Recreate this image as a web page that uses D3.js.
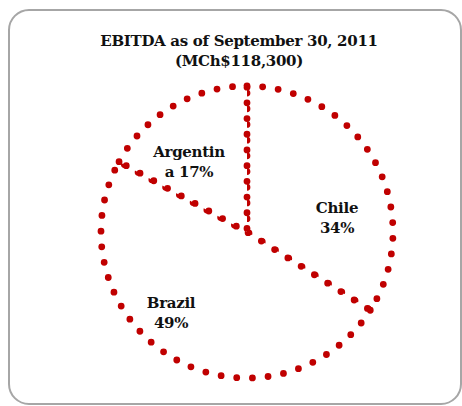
<!DOCTYPE html>
<html lang="en">
<head>
    <meta charset="UTF-8">
    <title>EBITDA pie</title>
    <script src="https://cdn.jsdelivr.net/npm/d3@7"></script>
    <style>
        body { margin: 0; background: #fff; }
        svg { display: block; }
    </style>
</head>
<body>
<script>

    // DATA
    const countries = ["Chile", "Brazil", "Argentina"]
    const shares = [34, 49, 17]
    const labelLines = [["Chile", "34%"], ["Brazil", "49%"], ["Argentin", "a 17%"]]
    const titleLines = ["EBITDA as of September 30, 2011", "(MCh$118,300)"]

    const width = 462, height = 406
    const cx = 247, cy = 232, radius = 146
    const red = "#c00000"
    const font = "'DejaVu Serif', 'Liberation Serif', serif"

    let svg = d3.select("body").append("svg")
        .attr("width", width)
        .attr("height", height)

    // FRAME
    svg.append("rect")
        .attr("x", 9).attr("y", 10)
        .attr("width", 452).attr("height", 394)
        .attr("rx", 20).attr("ry", 20)
        .style("fill", "white")
        .style("stroke", "#a6a6a6")
        .style("stroke-width", "2px")

    // TITLE
    svg.selectAll(".title")
        .data(titleLines)
        .enter().append("text")
        .attr("class", "title")
        .attr("x", 239)
        .attr("y", (d, i) => 46 + i * 20)
        .attr("text-anchor", "middle")
        .style("font-family", font)
        .style("font-weight", "bold")
        .style("font-size", "15px")
        .style("letter-spacing", "-0.3px")
        .style("fill", "#111")
        .text(d => d)

    // PIE
    let pie = d3.pie().sort(null).value(d => d)
    let arc = d3.arc().innerRadius(0).outerRadius(radius)

    let g = svg.append("g").attr("transform", `translate(${cx},${cy})`)

    g.selectAll("path")
        .data(pie(shares))
        .enter().append("path")
        .attr("d", arc)
        .style("fill", "white")
        .style("stroke", red)
        .style("stroke-width", "6.8px")
        .style("stroke-linecap", "round")
        .style("stroke-dasharray", "0 15.7")

    // LABELS (positions relative to pie centre)
    const labelPos = [[90, -19], [-76, 76], [-58, -75]]
    let labels = g.selectAll(".lbl")
        .data(labelLines)
        .enter().append("text")
        .attr("class", "lbl")
        .attr("text-anchor", "middle")
        .attr("transform", (d, i) => `translate(${labelPos[i][0]},${labelPos[i][1]})`)
        .style("font-family", font)
        .style("font-weight", "bold")
        .style("font-size", "15px")
        .style("letter-spacing", "-0.3px")
        .style("fill", "#111")

    labels.selectAll("tspan")
        .data(d => d)
        .enter().append("tspan")
        .attr("x", 0)
        .attr("dy", (d, i) => i === 0 ? 0 : 20)
        .text(d => d)

</script>
</body>
</html>
